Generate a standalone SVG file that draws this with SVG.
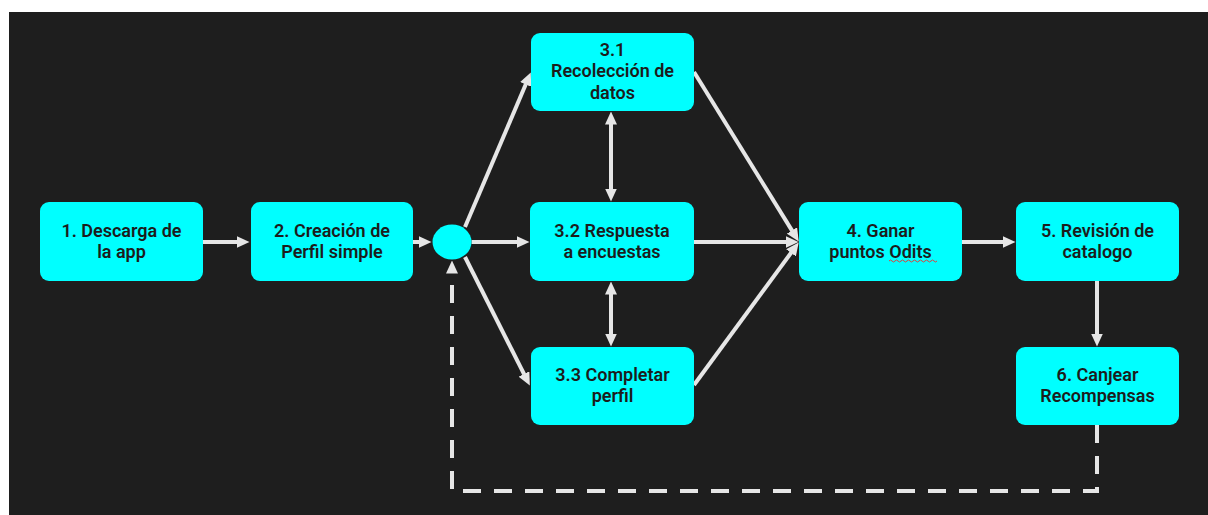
<svg xmlns="http://www.w3.org/2000/svg" width="1208" height="515" viewBox="0 0 1208 515">
  <defs>
    <style>
      .node rect, .node ellipse { fill: #00ffff; }
      .node text { font-family: Roboto, "Noto Sans", sans-serif; font-weight: 600; font-size: 18px; fill: #1c1c1c; text-anchor: middle; }
      .link { stroke: #e6e6e6; stroke-width: 4; fill: none; }
      .arrow { marker-end: url(#head); }
      .both { marker-start: url(#head); marker-end: url(#head); }
      .dashed { stroke-dasharray: 18 13; }
    </style>
    <marker id="head" viewBox="0 0 13 12" refX="0.5" refY="6" markerWidth="13" markerHeight="12" markerUnits="userSpaceOnUse" orient="auto-start-reverse">
      <path d="M0,0 L13,6 L0,12 Z" fill="#e6e6e6"/>
    </marker>
  </defs>

  <!-- canvas -->
  <rect x="0" y="0" width="1208" height="515" fill="#ffffff"/>
  <rect x="9" y="12" width="1199" height="503" fill="#1e1e1e"/>

  <!-- connectors -->
  <g id="connectors">
    <line class="link arrow" x1="203" y1="242" x2="237" y2="242"/>
    <line class="link arrow" x1="413" y1="242" x2="419" y2="242"/>
    <line class="link arrow" x1="465" y1="227" x2="525.9" y2="84"/>
    <line class="link arrow" x1="471.5" y1="242" x2="517" y2="242"/>
    <line class="link arrow" x1="465" y1="257" x2="524.2" y2="374.4"/>
    <line class="link both" x1="611" y1="124" x2="611" y2="189"/>
    <line class="link both" x1="611" y1="294" x2="611" y2="334"/>
    <line class="link arrow" x1="694" y1="72" x2="792.2" y2="230.9"/>
    <line class="link arrow" x1="694" y1="242" x2="786" y2="242"/>
    <line class="link arrow" x1="694" y1="385" x2="791.3" y2="252.5"/>
    <line class="link arrow" x1="962" y1="242" x2="1003" y2="242"/>
    <line class="link arrow" x1="1097" y1="281" x2="1097" y2="334"/>
    <path class="link dashed arrow" d="M1097,425 V491 H452 V273"/>
  </g>

  <!-- nodes -->
  <g id="n1" class="node">
    <rect x="40" y="202" width="163" height="79" rx="9"/>
    <text x="121.5" y="236.5">1. Descarga de<tspan x="121.5" dy="21.5">la app</tspan></text>
  </g>
  <g id="n2" class="node">
    <rect x="251" y="202" width="162" height="79" rx="9"/>
    <text x="332" y="236.5">2. Creación de<tspan x="332" dy="21.5">Perfil simple</tspan></text>
  </g>
  <g id="hub" class="node">
    <ellipse cx="452" cy="242" rx="19.5" ry="17.5"/>
  </g>
  <g id="n31" class="node">
    <rect x="531" y="33" width="163" height="78" rx="9"/>
    <text x="612.5" y="55.5">3.1<tspan x="612.5" dy="21.7">Recolección de</tspan><tspan x="612.5" dy="21.7">datos</tspan></text>
  </g>
  <g id="n32" class="node">
    <rect x="530" y="202" width="164" height="79" rx="9"/>
    <text x="612" y="236.5">3.2 Respuesta<tspan x="612" dy="21.5">a encuestas</tspan></text>
  </g>
  <g id="n33" class="node">
    <rect x="531" y="347" width="163" height="78" rx="9"/>
    <text x="612.5" y="380.5">3.3 Completar<tspan x="612.5" dy="21.5">perfil</tspan></text>
  </g>
  <g id="n4" class="node">
    <rect x="799" y="202" width="163" height="79" rx="9"/>
    <text x="880.5" y="236.5">4. Ganar<tspan x="880.5" dy="21.5">puntos Odits</tspan></text>
    <!-- spell-check squiggle under "Odits" -->
    <path d="M889,261 q1.5,-2 3,0 t3,0 t3,0 t3,0 t3,0 t3,0 t3,0 t3,0 t3,0 t3,0 t3,0 t3,0 t3,0 t3,0 t3,0 t3,0" fill="none" stroke="#e0403a" stroke-width="1"/>
  </g>
  <g id="n5" class="node">
    <rect x="1016" y="202" width="163" height="79" rx="9"/>
    <text x="1097.5" y="236.5">5. Revisión de<tspan x="1097.5" dy="21.5">catalogo</tspan></text>
  </g>
  <g id="n6" class="node">
    <rect x="1016" y="347" width="163" height="78" rx="9"/>
    <text x="1097.5" y="380.5">6. Canjear<tspan x="1097.5" dy="21.5">Recompensas</tspan></text>
  </g>
</svg>
